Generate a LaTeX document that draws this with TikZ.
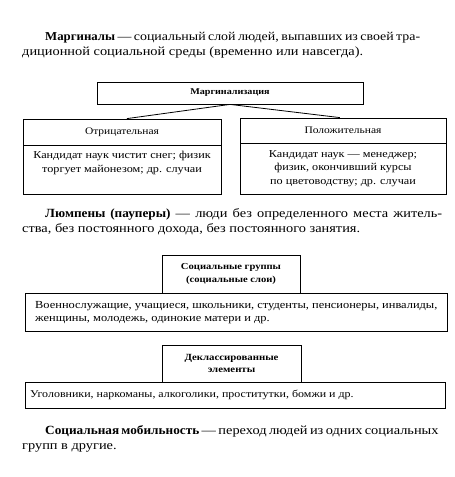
\documentclass[tikz,border=0pt]{standalone}
\usepackage{fontspec}
\setmainfont{Liberation Serif}[FakeStretch=1.15]
\newfontfamily\parbold{Liberation Serif}[FakeStretch=1.06]
\usetikzlibrary{calc}
\newcommand{\pb}[1]{{\parbold\bfseries #1}}
\begin{document}
\begin{tikzpicture}[x=1pt,y=-1pt,
  box/.style={draw, line width=0.8pt, inner sep=0pt},
  para/.style={anchor=base west, inner sep=0pt, font=\fontsize{12.5}{15}\selectfont},
  btext/.style={inner sep=0pt, align=center, font=\fontsize{10.6}{13.2}\selectfont},
  ltext/.style={inner sep=0pt, align=left, anchor=west, font=\fontsize{10.8}{13}\selectfont},
  htitle/.style={align=center, font=\bfseries\fontsize{8.8}{12}\selectfont},
  conn/.style={line width=0.8pt}]
\useasboundingbox (0,0) rectangle (455,477);

% paragraph 1
\node[para, font=\fontsize{12.1}{15}\selectfont] (p1a) at (45,40) {\makebox[375pt][s]{\pb{Маргиналы} — социальный слой людей, выпавших из своей тра-}};
\node[para] (p1b) at (22,55) {диционной социальной среды (временно или навсегда).};

% Marginalization
\node[box, minimum width=266pt, minimum height=22pt, htitle] (marg) at (230,93) {Маргинализация};
\node[box, minimum width=198pt, minimum height=26pt, font=\fontsize{10}{12}\selectfont] (neg) at (122,132) {Отрицательная};
\node[box, minimum width=198pt, minimum height=49pt, anchor=north] (negb) at (neg.south) {};
\node[btext] (negt) at (122,163) {Кандидат наук чистит снег; физик\\торгует майонезом; др. случаи};
\node[box, minimum width=206pt, minimum height=25pt, font=\fontsize{10}{12}\selectfont] (pos) at (343,130.5) {Положительная};
\node[box, minimum width=206pt, minimum height=51pt, anchor=north] (posb) at (pos.south) {};
\node[btext] (post) at (343,168.5) {Кандидат наук — менеджер;\\физик, окончивший курсы\\по цветоводству; др. случаи};
\draw[conn] (marg.south) -- ($(neg.north west)!0.525!(neg.north east)$);
\draw[conn] (marg.south) -- ($(pos.north west)!0.485!(pos.north east)$);

% paragraph 2
\node[para] (p2a) at (45,217) {\makebox[397pt][s]{\pb{Люмпены (пауперы)} — люди без определенного места житель-}};
\node[para] (p2b) at (22,232) {ства, без постоянного дохода, без постоянного занятия.};

% Social groups
\node[box, minimum width=138pt, minimum height=38pt, htitle, font=\bfseries\fontsize{9.2}{13}\selectfont] (sg) at (231,274) {Социальные группы\\(социальные слои)};
\node[box, minimum width=422pt, minimum height=38pt] (sgb) at (236,312) {};
\node[ltext] (sgt) at (35,313) {Военнослужащие, учащиеся, школьники, студенты, пенсионеры, инвалиды,\\женщины, молодежь, одинокие матери и др.};

% Declassed
\node[box, minimum width=139pt, minimum height=37pt, htitle, font=\bfseries\fontsize{9.4}{11.5}\selectfont] (dc) at (231.5,363.5) {Деклассированные\\элементы};
\node[box, minimum width=420pt, minimum height=26pt] (dcb) at (235,395) {};
\node[ltext, font=\fontsize{10.4}{13}\selectfont] (dct) at (30,395) {Уголовники, наркоманы, алкоголики, проститутки, бомжи и др.};

% paragraph 3
\node[para] (p3a) at (45,434) {\makebox[393pt][s]{\pb{Социальная мобильность} — переход людей из одних социальных}};
\node[para] (p3b) at (22,449) {групп в другие.};
\end{tikzpicture}
\end{document}
